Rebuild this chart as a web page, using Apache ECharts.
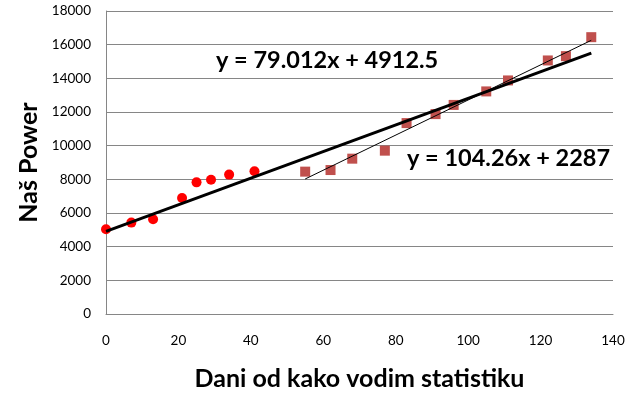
<!DOCTYPE html>
<html><head><meta charset="utf-8">
<script src="https://cdn.jsdelivr.net/npm/echarts@6/dist/echarts.min.js"></script>
<style>html,body{margin:0;padding:0;background:#fff}#c{width:630px;height:396px}</style>
</head><body><div id="c"></div>
<script>
var circleX = [0, 7, 13, 21, 25, 29, 34, 41];
var circleY = [5030, 5430, 5630, 6890, 7820, 7980, 8280, 8475];
var squareX = [55, 62, 68, 77, 83, 91, 96, 105, 111, 122, 127, 134];
var squareY = [8457, 8552, 9228, 9703, 11341, 11875, 12421, 13223, 13875, 15062, 15318, 16445];
var trendAll = {slope: 79.012, intercept: 4912.5, from: 0, to: 134, label: 'y = 79.012x + 4912.5'};
var trendSq = {slope: 104.26, intercept: 2287, from: 55, to: 134, label: 'y = 104.26x + 2287'};
var xTicks = [0, 20, 40, 60, 80, 100, 120, 140];
var yTicks = [0, 2000, 4000, 6000, 8000, 10000, 12000, 14000, 16000, 18000];

function pairs(xs, ys){ return xs.map(function(x,i){return [x, ys[i]];}); }
function trend(t){ return [[t.from, t.slope*t.from+t.intercept],[t.to, t.slope*t.to+t.intercept]]; }

var chart = echarts.init(document.getElementById('c'));
var font = 'Lato, "Open Sans", sans-serif';
chart.setOption({
  animation: false,
  grid: {left: 106, right: 17, top: 11, bottom: 82},
  xAxis: {type: 'value', min: xTicks[0], max: xTicks[xTicks.length-1], interval: xTicks[1]-xTicks[0],
    axisLine: {lineStyle: {color: '#868686'}}, axisTick: {show: false},
    splitLine: {show: false},
    axisLabel: {color: '#000', fontSize: 13.5, fontFamily: font, margin: 20, formatter: function(v){return String(v);}},
    name: 'Dani od kako vodim statistiku', nameLocation: 'middle', nameGap: 52,
    nameTextStyle: {color: '#000', fontSize: 25, fontWeight: 'bold', fontFamily: font}},
  yAxis: {type: 'value', min: yTicks[0], max: yTicks[yTicks.length-1], interval: yTicks[1]-yTicks[0],
    axisLine: {show: true, lineStyle: {color: '#868686'}}, axisTick: {show: false},
    splitLine: {lineStyle: {color: '#868686'}},
    axisLabel: {color: '#000', fontSize: 13.5, fontFamily: font, margin: 15, formatter: function(v){return String(v);}},
    name: 'Naš Power', nameLocation: 'middle', nameGap: 64,
    nameTextStyle: {color: '#000', fontSize: 25, fontWeight: 'bold', fontFamily: font}},
  series: [
    {type: 'line', data: trend(trendAll), symbol: 'none', lineStyle: {color: '#000', width: 3}, z: 3},
    {type: 'line', data: trend(trendSq), symbol: 'none', lineStyle: {color: '#000', width: 1}, z: 3},
    {type: 'scatter', data: pairs(circleX, circleY), symbol: 'circle', symbolSize: 10, itemStyle: {color: '#FF0000', opacity: 1}, z: 2},
    {type: 'scatter', data: pairs(squareX, squareY), symbol: 'rect', symbolSize: 10, itemStyle: {color: '#C0504D', opacity: 1}, z: 2}
  ],
  graphic: [
    {type: 'text', left: 216, top: 48, style: {text: trendAll.label, fill: '#000', font: 'bold 23.5px ' + font}},
    {type: 'text', left: 407, top: 146, style: {text: trendSq.label, fill: '#000', font: 'bold 23.5px ' + font}}
  ]
});
</script></body></html>
